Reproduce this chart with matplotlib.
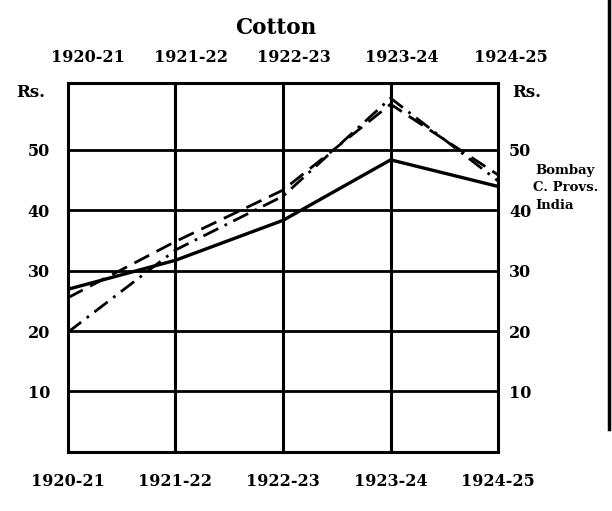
import matplotlib
matplotlib.use("Agg")
import matplotlib.pyplot as plt
from matplotlib.lines import Line2D
from matplotlib.transforms import ScaledTranslation

years = ["1920-21", "1921-22", "1922-23", "1923-24", "1924-25"]
bombay = [25.5, 34.8, 43.3, 57.5, 45.8]
c_provs = [19.8, 33.4, 42.3, 58.5, 44.8]
india = [26.9, 31.7, 38.3, 48.3, 43.9]
yticks = [10, 20, 30, 40, 50]
series_names = ["Bombay", "C. Provs.", "India"]

plt.rcParams["font.family"] = ["DejaVu Serif"]
plt.rcParams["font.weight"] = "bold"

fig = plt.figure(figsize=(6.12, 5.11), dpi=100)
ax = fig.add_axes([0.111, 0.1155, 0.703, 0.722])
x = list(range(len(years)))

ax.plot(x, bombay, color="black", lw=2.0, ls=(0, (6, 3)))
ax.plot(x, c_provs, color="black", lw=2.0, ls=(0, (6, 2.5, 1, 2.5)))
ax.plot(x, india, color="black", lw=2.4, ls="-")

ax.set_xlim(0, 4)
ax.set_ylim(0, 61)
for v in yticks:
    ax.axhline(v, color="black", lw=2.0, zorder=1)
for i in x[1:-1]:
    ax.axvline(i, color="black", lw=2.2, zorder=1)
for s in ax.spines.values():
    s.set_linewidth(2.2)

# y labels on both sides
ax.set_yticks(yticks)
ax.set_yticklabels([str(v) for v in yticks])
ax.tick_params(axis="y", length=0, pad=13, labelsize=11.5, labelright=True)
for t in ax.yaxis.get_major_ticks():
    t.label2.set_transform(t.label2.get_transform()
                           + ScaledTranslation(-0.07, 0, fig.dpi_scale_trans))

# year labels bottom
ax.set_xticks(x)
ax.set_xticklabels(years)
ax.tick_params(axis="x", length=0, pad=15, labelsize=11.5)

# year labels top, set slightly to the right of the grid lines
top = ax.secondary_xaxis("top")
top.set_xticks(x)
top.set_xticklabels(years)
top.tick_params(axis="x", length=0, pad=12, labelsize=11.5)
top.spines["top"].set_visible(False)
shifts = [0.20, 0.16, 0.11, 0.11, 0.13]
for lab, dx in zip(top.xaxis.get_ticklabels(), shifts):
    lab.set_transform(lab.get_transform() + ScaledTranslation(dx, 0, fig.dpi_scale_trans))

ax.text(-0.053, 0.973, "Rs.", transform=ax.transAxes, fontsize=12,
        ha="right", va="center")
ax.text(1.033, 0.973, "Rs.", transform=ax.transAxes, fontsize=12,
        ha="left", va="center")

fig.text(0.451, 0.945, "Cotton", fontsize=15.5, ha="center", va="center")

legend_x = [1.086, 1.081, 1.086]
legend_y = [0.764, 0.718, 0.669]
for name, lx, ly in zip(series_names, legend_x, legend_y):
    ax.text(lx, ly, name, transform=ax.transAxes, fontsize=9.5,
            ha="left", va="center")

# scan edge on the right of the page
fig.add_artist(Line2D([0.995, 0.995], [0.16, 1.0], transform=fig.transFigure,
                      color="black", lw=2.5))

fig.savefig("out.png", dpi=100, facecolor="white")
